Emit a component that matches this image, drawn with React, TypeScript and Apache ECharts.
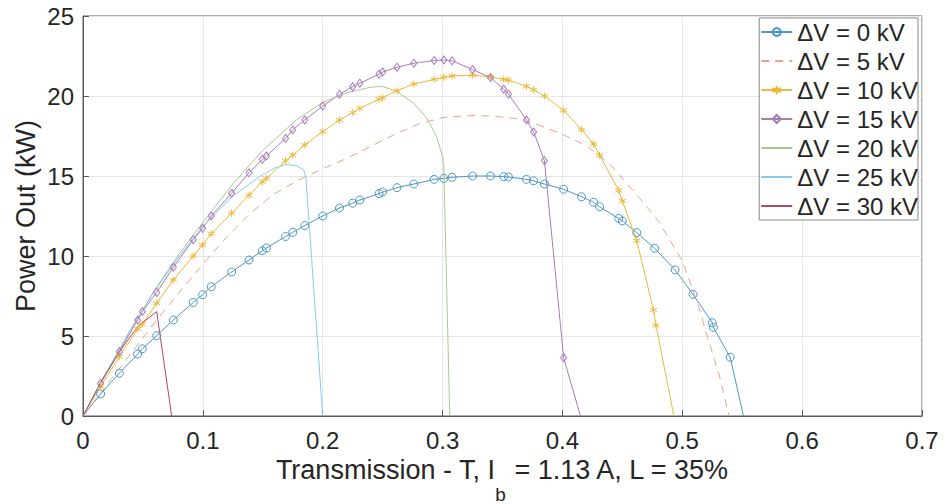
import React, { useEffect, useRef } from "react";
import * as echarts from "echarts";

// ---- data ----
const X_TICKS = [0, 0.1, 0.2, 0.3, 0.4, 0.5, 0.6, 0.7];
const Y_TICKS = [0, 5, 10, 15, 20, 25];

const NAMES = ["\u0394V = 0 kV", "\u0394V = 5 kV", "\u0394V = 10 kV", "\u0394V = 15 kV", "\u0394V = 20 kV", "\u0394V = 25 kV", "\u0394V = 30 kV"];

const T0 = [0, 0.0147, 0.0303, 0.0456, 0.0495, 0.0615, 0.0754, 0.092, 0.0998, 0.107, 0.124, 0.1385, 0.1496, 0.153, 0.169, 0.175, 0.185, 0.2, 0.214, 0.225, 0.231, 0.247, 0.25, 0.262, 0.276, 0.293, 0.301, 0.308, 0.325, 0.34, 0.351, 0.355, 0.37, 0.376, 0.385, 0.401, 0.416, 0.426, 0.431, 0.447, 0.45, 0.462, 0.477, 0.494, 0.509, 0.525, 0.526, 0.54, 0.551];
const P0 = [0, 1.38, 2.67, 3.87, 4.2, 5.02, 6.0, 7.1, 7.58, 8.08, 9.0, 9.75, 10.33, 10.5, 11.22, 11.48, 11.9, 12.5, 13.0, 13.3, 13.5, 13.9, 14.0, 14.27, 14.5, 14.79, 14.85, 14.92, 15.0, 15.0, 14.96, 14.94, 14.79, 14.7, 14.5, 14.17, 13.7, 13.36, 13.08, 12.35, 12.19, 11.46, 10.48, 9.13, 7.6, 5.83, 5.54, 3.67, 0];

const T5 = [0, 0.02, 0.04, 0.06, 0.08, 0.1, 0.12, 0.14, 0.16, 0.18, 0.2, 0.22, 0.24, 0.26, 0.28, 0.3, 0.32, 0.34, 0.36, 0.38, 0.4, 0.42, 0.44, 0.46, 0.48, 0.5, 0.513, 0.52, 0.531, 0.539];
const P5 = [0, 1.95, 3.9, 5.85, 7.7, 9.5, 11.2, 12.7, 13.9, 14.75, 15.45, 16.1, 16.85, 17.6, 18.25, 18.65, 18.77, 18.75, 18.6, 18.2, 17.6, 16.9, 15.7, 14.0, 12.2, 9.7, 7.0, 5.2, 2.5, 0];

const T10 = [0, 0.0147, 0.0303, 0.0456, 0.0495, 0.0615, 0.0754, 0.092, 0.0998, 0.107, 0.124, 0.1385, 0.1496, 0.153, 0.169, 0.175, 0.185, 0.2, 0.214, 0.225, 0.231, 0.247, 0.25, 0.262, 0.276, 0.293, 0.301, 0.308, 0.325, 0.34, 0.351, 0.355, 0.37, 0.376, 0.385, 0.401, 0.416, 0.426, 0.431, 0.447, 0.45, 0.462, 0.476, 0.478, 0.493];
const P10 = [0, 1.85, 3.71, 5.44, 5.73, 7.06, 8.5, 10.0, 10.69, 11.4, 12.67, 13.8, 14.64, 14.85, 15.95, 16.3, 16.94, 17.77, 18.5, 18.96, 19.23, 19.8, 19.9, 20.33, 20.75, 21.04, 21.17, 21.25, 21.3, 21.2, 21.04, 21.0, 20.6, 20.4, 20.0, 19.1, 17.9, 17.0, 16.3, 14.1, 13.44, 10.96, 6.62, 5.67, 0];

const T15 = [0, 0.0147, 0.0303, 0.0456, 0.0495, 0.0615, 0.0754, 0.092, 0.0998, 0.107, 0.124, 0.1385, 0.1496, 0.153, 0.169, 0.175, 0.185, 0.2, 0.214, 0.225, 0.231, 0.247, 0.25, 0.262, 0.276, 0.293, 0.301, 0.308, 0.325, 0.34, 0.351, 0.355, 0.37, 0.376, 0.385, 0.401, 0.415];
const P15 = [0, 2.04, 4.02, 6.0, 6.52, 7.73, 9.3, 11.02, 11.73, 12.5, 13.92, 15.2, 16.04, 16.25, 17.35, 17.88, 18.5, 19.37, 20.1, 20.58, 20.8, 21.37, 21.5, 21.8, 22.05, 22.22, 22.25, 22.2, 21.65, 21.15, 20.42, 20.12, 18.5, 17.75, 15.96, 3.64, 0];

const T20 = [0, 0.02, 0.04, 0.06, 0.08, 0.1, 0.125, 0.15, 0.178, 0.2, 0.22, 0.24, 0.25, 0.262, 0.276, 0.287, 0.295, 0.3, 0.301, 0.306];
const P20 = [0, 2.75, 5.4, 7.9, 10.1, 12.1, 14.5, 16.6, 18.5, 19.6, 20.2, 20.55, 20.6, 20.27, 19.54, 18.6, 17.46, 16.2, 15.6, 0];

const T25 = [0, 0.02, 0.04, 0.06, 0.08, 0.1, 0.125, 0.148, 0.16, 0.17, 0.178, 0.184, 0.186, 0.2];
const P25 = [0, 2.8, 5.45, 7.85, 9.95, 11.85, 13.75, 15.0, 15.5, 15.72, 15.65, 15.4, 14.9, 0];

const T30 = [0, 0.0147, 0.0303, 0.0456, 0.0615, 0.074];
const P30 = [0, 2.1, 4.0, 5.6, 6.52, 0];

const COLORS = ["#4b97c8", "#e3a58a", "#edb73a", "#a77bb8", "#a9c98a", "#86cbe9", "#b5485f"];
const NO_MARKER = [false, true, false, false, true, true, true];

const ASTERISK = "path://M5,0 L5,10 M0.67,2.5 L9.33,7.5 M0.67,7.5 L9.33,2.5";
const FONT = "'Liberation Sans', Arial, Helvetica, sans-serif";

// points on the zero line (start / end) carry no marker in the reference
const zip = (t: number[], p: number[]) =>
  t.map((v, i) => (p[i] === 0 ? { value: [v, p[i]], symbol: "none" } : { value: [v, p[i]] }));

export default function App() {
  const ref = useRef<HTMLDivElement>(null);
  useEffect(() => {
    if (!ref.current) return;
    const chart = echarts.init(ref.current, undefined, { renderer: "svg" });
    const base = (i: number, t: number[], p: number[], extra: any) => ({
      name: NAMES[i],
      type: "line",
      data: zip(t, p),
      lineStyle: { color: COLORS[i], width: 1 },
      itemStyle: { color: "rgba(255,255,255,0)", borderColor: COLORS[i], borderWidth: 1 },
      emphasis: { disabled: true },
      ...extra,
    });
    chart.setOption({
      animation: false,
      backgroundColor: "#ffffff",
      textStyle: { fontFamily: FONT },
      grid: {
        left: 83, top: 16, right: 24, bottom: 88,
        show: true, borderColor: "#5a5a5a", borderWidth: 1,
        containLabel: false, outerBoundsMode: "none",
      },
      xAxis: {
        type: "value",
        min: X_TICKS[0],
        max: X_TICKS[X_TICKS.length - 1],
        interval: 0.1,
        name: "{a|Transmission - T, I}{s|b}{a| = 1.13 A, L = 35%}",
        nameLocation: "middle",
        nameGap: 40,
        nameMoveOverlap: false,
        nameTextStyle: {
          color: "#262626",
          fontFamily: FONT,
          rich: {
            a: { fontSize: 27, lineHeight: 24, verticalAlign: "top", color: "#262626", fontFamily: FONT },
            s: { fontSize: 19, lineHeight: 48, verticalAlign: "bottom", color: "#262626", fontFamily: FONT },
          },
        },
        axisLine: { lineStyle: { color: "#5a5a5a", width: 1 } },
        axisTick: { inside: true, length: 6, lineStyle: { color: "#5a5a5a" } },
        axisLabel: {
          fontSize: 24,
          color: "#262626",
          margin: 12,
          fontFamily: FONT,
          formatter: (v: number) => (v === 0 ? "0" : v.toFixed(1)),
        },
        splitLine: { show: true, lineStyle: { color: "#e6e6e6", width: 1 } },
      },
      yAxis: {
        type: "value",
        min: Y_TICKS[0],
        max: Y_TICKS[Y_TICKS.length - 1],
        interval: 5,
        name: "Power Out (kW)",
        nameLocation: "middle",
        nameGap: 44,
        nameMoveOverlap: false,
        nameTextStyle: { fontSize: 27, color: "#262626", fontFamily: FONT },
        axisLine: { show: true, lineStyle: { color: "#5a5a5a", width: 1 } },
        axisTick: { show: true, inside: true, length: 6, lineStyle: { color: "#5a5a5a" } },
        axisLabel: { fontSize: 24, color: "#262626", margin: 9, fontFamily: FONT },
        splitLine: { show: true, lineStyle: { color: "#e6e6e6", width: 1 } },
      },
      legend: {
        orient: "vertical",
        right: 28,
        top: 18,
        backgroundColor: "#ffffff",
        borderColor: "#8a8a8a",
        borderWidth: 1,
        borderRadius: 0,
        padding: [2, 0, 2, 1],
        itemWidth: 31,
        itemHeight: 10,
        itemGap: 5,
        textStyle: { fontSize: 24, lineHeight: 24, color: "#262626", fontFamily: FONT },
        data: NAMES.map((n, i) =>
          NO_MARKER[i] ? { name: n, itemStyle: { color: "rgba(0,0,0,0)", borderWidth: 0, borderColor: "rgba(0,0,0,0)" } } : { name: n }
        ),
      },
      series: [
        base(0, T0, P0, { symbol: "circle", symbolSize: 8, showSymbol: true }),
        base(1, T5, P5, { symbol: "none", lineStyle: { color: COLORS[1], width: 1, type: [8, 6] } }),
        base(2, T10, P10, { symbol: ASTERISK, symbolSize: 7, showSymbol: true }),
        base(3, T15, P15, { symbol: "diamond", symbolSize: [6, 8], showSymbol: true }),
        base(4, T20, P20, { symbol: "none" }),
        base(5, T25, P25, { symbol: "none" }),
        base(6, T30, P30, { symbol: "none" }),
      ],
    });
    return () => chart.dispose();
  }, []);
  return <div ref={ref} style={{ position: "absolute", left: 0, top: 0, width: 946, height: 504 }} />;
}
